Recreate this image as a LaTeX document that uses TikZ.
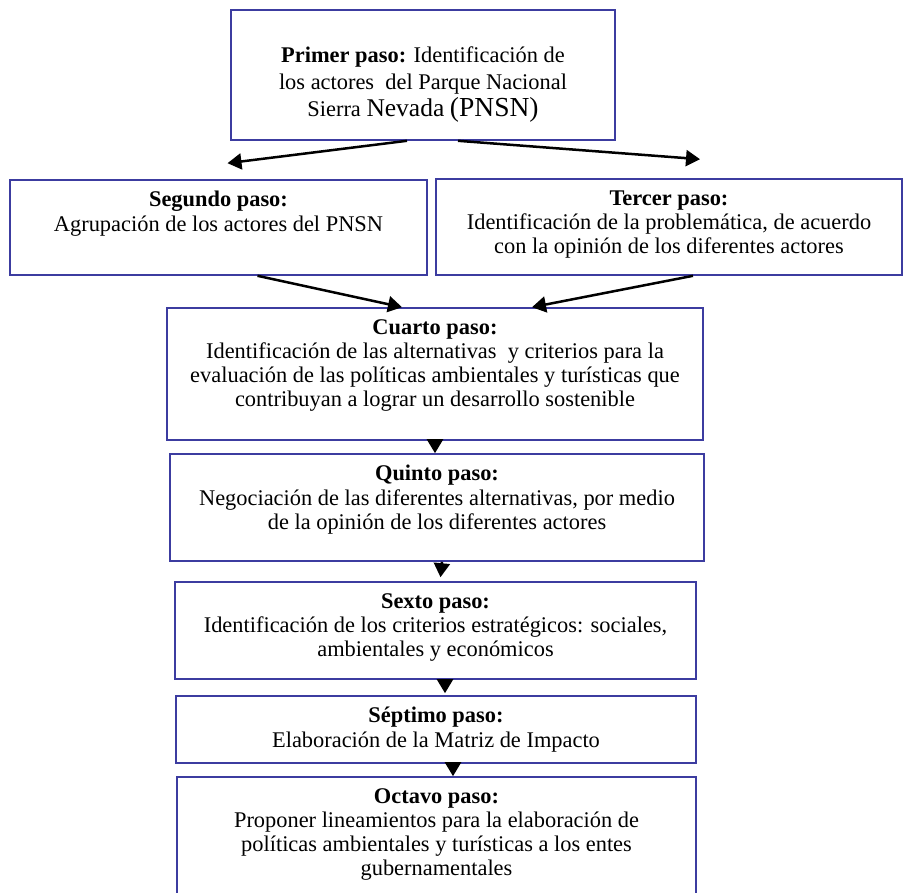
\documentclass[tikz,border=0pt]{standalone}
\usepackage{fontspec}
\setmainfont{Liberation Serif}
\usetikzlibrary{positioning,arrows.meta}
\definecolor{azulborde}{RGB}{60,60,160}

\begin{document}
\begin{tikzpicture}[x=1pt,y=-1pt,
    paso/.style={draw=azulborde, line width=1.6pt, inner sep=0pt},
    texto/.style={align=center, inner sep=0pt, font=\fontsize{22.4}{24.2}\selectfont, execute at begin node=\strut},
    flecha/.style={line width=2.5pt, -{Triangle[length=14pt,width=16pt]}}]
    \useasboundingbox (0,0) rectangle (904,893);

    \node[paso, minimum width=384pt, minimum height=130pt] (primer) at (423,75) {};
    \node[paso, minimum width=417pt, minimum height=95pt] (segundo) at (218.5,227.5) {};
    \node[paso, minimum width=466pt, minimum height=96pt] (tercer) at (669,227) {};
    \node[paso, minimum width=536pt, minimum height=132pt] (cuarto) at (435,374) {};
    \node[paso, minimum width=534pt, minimum height=107pt] (quinto) at (437,507.5) {};
    \node[paso, minimum width=521pt, minimum height=97pt] (sexto) at (435.5,630.5) {};
    \node[paso, minimum width=520pt, minimum height=67pt] (septimo) at (436,729.5) {};
    \node[paso, minimum width=519pt, minimum height=120pt] (octavo) at (436.5,837) {};

    \node[texto, font=\fontsize{22.4}{27}\selectfont, below=37pt of primer.north] (primertxt)
        {\textbf{Primer paso:} Identificación de\\ los actores\ \ del Parque Nacional\\
         Sierra {\fontsize{25.5}{27}\selectfont Nevada} {\fontsize{27.5}{27}\selectfont (PNSN)}};
    \node[texto, below=12pt of segundo.north] (segundotxt)
        {\textbf{Segundo paso:}\\ Agrupación de los actores del PNSN};
    \node[texto, below=12pt of tercer.north] (tercertxt)
        {\textbf{Tercer paso:}\\ Identificación de la problemática, de acuerdo\\ con la opinión de los diferentes actores};
    \node[texto, below=12pt of cuarto.north] (cuartotxt)
        {\textbf{Cuarto paso:}\\ Identificación de las alternativas\ \ y criterios para la\\
         evaluación de las políticas ambientales y turísticas que\\ contribuyan a lograr un desarrollo sostenible};
    \node[texto, below=12pt of quinto.north] (quintotxt)
        {\textbf{Quinto paso:}\\ Negociación de las diferentes alternativas, por medio\\ de la opinión de los diferentes actores};
    \node[texto, below=12pt of sexto.north] (sextotxt)
        {\textbf{Sexto paso:}\\ Identificación de los criterios estratégicos: sociales,\\ ambientales y económicos};
    \node[texto, below=12pt of septimo.north] (septimotxt)
        {\textbf{Séptimo paso:}\\ Elaboración de la Matriz de Impacto};
    \node[texto, below=12pt of octavo.north] (octavotxt)
        {\textbf{Octavo paso:}\\ Proponer lineamientos para la elaboración de\\
         políticas ambientales y turísticas a los entes\\ gubernamentales};

    \draw[flecha] ([xshift=-16pt]primer.south) -- ([xshift=9pt,yshift=16pt]segundo.north);
    \draw[flecha] ([xshift=35pt]primer.south) -- ([xshift=31pt,yshift=19pt]tercer.north);
    \draw[flecha] ([xshift=39pt]segundo.south) -- ([xshift=-33pt]cuarto.north);
    \draw[flecha] ([xshift=24pt]tercer.south) -- ([xshift=97pt]cuarto.north);
    \draw[flecha] (cuarto.south) -- ([xshift=-2pt]quinto.north);
    \draw[flecha] ([xshift=5pt]quinto.south) -- ([xshift=5pt,yshift=4pt]sexto.north);
    \draw[flecha] ([xshift=9.5pt]sexto.south) -- ([xshift=9pt,yshift=2pt]septimo.north);
    \draw[flecha] ([xshift=17pt]septimo.south) -- ([xshift=16.5pt]octavo.north);
\end{tikzpicture}
\end{document}
